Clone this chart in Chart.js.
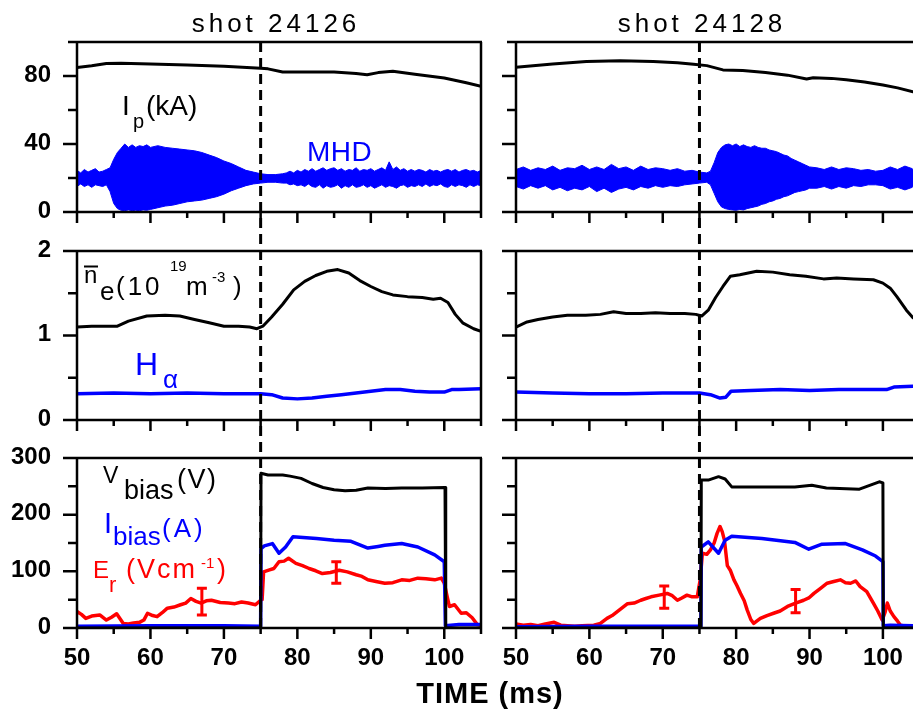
<!DOCTYPE html>
<html>
<head>
<meta charset="utf-8">
<script src="https://cdn.jsdelivr.net/npm/chart.js@4/dist/chart.umd.min.js"></script>
<style>
  body { margin: 0; background: #fff; width: 913px; height: 712px; position: relative; overflow: hidden; }
  canvas { position: absolute; }
</style>
</head>
<body>
<canvas id="lt" width="486" height="232" style="left:0;top:0"></canvas>
<canvas id="rt" width="427" height="232" style="left:486px;top:0"></canvas>
<canvas id="lm" width="486" height="208" style="left:0;top:232px"></canvas>
<canvas id="rm" width="427" height="208" style="left:486px;top:232px"></canvas>
<canvas id="lb" width="913" height="272" style="left:0;top:440px"></canvas>
<canvas id="rb" width="427" height="272" style="left:486px;top:440px"></canvas>
<script>
const FONT = "'Liberation Sans', Arial, sans-serif";
const BLUE = "#0000ff", RED = "#ff0000", BLACK = "#000000";

// time axis (ms)
const xLabels = [50, 60, 70, 80, 90, 100];
const xMinor = [55, 65, 75, 85, 95, 105];
const biasOn = 75;

// y ticks
const ipTicks = [0, 40, 80], ipMinor = [20, 60, 100];
const neTicks = [0, 1, 2], neMinor = [0.5, 1.5];
const biasTicks = [0, 100, 200, 300], biasMinor = [50, 150, 250];

// ---- shot 24126 ----
const ipT1 = [50, 52, 54, 56, 60, 65, 70, 75, 76, 78, 80, 85, 88, 89.5, 91, 93, 96, 100, 103, 105];
const ipV1 = [85, 86, 87.3, 87.5, 87.1, 86.5, 85.7, 84.6, 84.2, 82.3, 82.3, 82.4, 81.5, 80.7, 82, 82.8, 81, 78.8, 76, 74];

// MHD oscillation envelope (upper / lower edge of the band)
const mhdT1 = [50, 50.5, 51, 51.5, 52, 52.5, 53, 53.5, 54, 54.5,
  55, 55.5, 56, 56.5, 57, 57.5, 58, 58.5, 59, 59.5, 60,
  61, 62, 63, 64, 65, 66, 67, 68, 69, 70, 71, 72, 73, 74, 75,
  76, 77, 78,
  78.5, 79, 79.5, 80, 80.5, 81, 81.5, 82, 82.5, 83, 83.5, 84, 84.5, 85, 85.5, 86, 86.5, 87, 87.5, 88, 88.5, 89, 89.5, 90,
  90.5, 91, 91.5, 92, 92.5, 93, 93.5, 94, 94.5, 95, 95.5, 96, 96.5, 97, 97.5, 98, 98.5, 99, 99.5, 100,
  100.5, 101, 101.5, 102, 102.5, 103, 103.5, 104, 104.5, 105];
const mhdHi1 = [24.5, 23, 25, 23.5, 24.5, 25.5, 23.5, 24, 25, 26,
  31, 35, 37.5, 40, 38, 39.5, 38, 39, 38.5, 39.5, 38,
  39, 38, 37.5, 37, 36.5, 36, 35, 33.5, 32, 30, 28.5, 26.5, 24.5, 23.5, 22.5,
  22, 22, 22.5,
  23, 24, 23, 24.5, 23.5, 25, 24, 25.5, 24, 25, 26, 24.5, 25.5, 26, 24.5, 25.5, 24, 25, 24.5, 26, 24, 25, 24.5, 25.5,
  24, 25, 26, 24.5, 29.5, 25, 26.5, 24.5, 25.5, 24, 25, 24, 25, 24.5, 23.5, 25, 24, 24.5, 23.5, 24.5,
  25, 24, 25, 23.5, 24.5, 25, 24, 24.5, 23.5, 24.5];
const mhdLo1 = [15, 16.5, 15, 16, 14.5, 16, 15.5, 15, 16, 12,
  5, 2, 1, 0.8, 1.2, 0.8, 1, 0.8, 1.2, 1, 1.5,
  2.5, 3.5, 4, 5, 6, 6.5, 7, 8, 9, 10.5, 12.5, 14, 15.5, 16.5, 17,
  17.5, 17.5, 17,
  17, 16, 16.5, 15.5, 16, 15, 16.5, 15, 14.5, 16, 14, 15.5, 14.5, 15, 16, 14, 15.5, 14.5, 16, 14.5, 15, 16, 14.5, 15.5,
  14, 15, 16, 14.5, 15.5, 15, 14, 15.5, 16, 14.5, 15.5, 15, 16, 15, 16.5, 15, 16, 15.5, 16.5, 15,
  14.5, 16, 15, 16, 15.5, 14.5, 16, 15, 16, 15.5];

const neT1 = [50, 52, 54, 55.5, 57, 59.5, 62, 64, 66, 68, 70, 72, 73.5, 74.5, 75.3, 76.5, 78, 79.5, 81, 82.5, 84, 85.5, 87, 88.5, 90, 91.5, 93, 95, 97, 98.5, 99.5, 100.5, 101.5, 102.5, 104, 105];
const neV1 = [1.10, 1.11, 1.11, 1.11, 1.17, 1.23, 1.24, 1.23, 1.19, 1.15, 1.11, 1.11, 1.10, 1.08, 1.11, 1.22, 1.37, 1.54, 1.64, 1.71, 1.76, 1.78, 1.74, 1.65, 1.58, 1.52, 1.48, 1.46, 1.45, 1.43, 1.44, 1.39, 1.25, 1.15, 1.08, 1.05];

const haT1 = [50, 55, 60, 65, 70, 75, 76.5, 78, 80, 82, 84, 86, 88, 90, 92, 94, 96, 98, 100, 101, 102, 105];
const haV1 = [0.31, 0.32, 0.31, 0.32, 0.31, 0.31, 0.30, 0.26, 0.25, 0.26, 0.28, 0.30, 0.32, 0.34, 0.36, 0.36, 0.34, 0.33, 0.33, 0.36, 0.36, 0.37];

const vbT1 = [50, 75, 75.05, 76, 78, 79, 80.5, 82, 83.5, 85, 86.5, 88, 89.6, 92, 94.2, 97, 100.1, 100.2, 105];
const vbV1 = [0, 0, 273, 270, 270, 268, 264, 255, 248, 244, 242, 243, 247, 246, 247, 247, 248, 0, 0];

const ibT1 = [50, 60, 70, 75, 75.05, 75.5, 76.6, 77.5, 78.4, 79.4, 82.6, 85, 87.3, 89.6, 91, 91.9, 94.2, 96.4, 98.7, 100, 100.15, 102, 105];
const ibV1 = [3, 4, 4, 3, 140, 145, 149, 132, 143, 161, 158, 155, 153, 141, 144, 146, 149, 143, 129, 117, 4, 6, 6];

const erT1 = [50, 50.6, 51.2, 52, 53.1, 54, 54.7, 55.4, 56.3, 57, 57.7, 58.5, 59.1, 59.6, 60.3, 60.9, 61.6, 62.3, 63.2, 64.1, 64.8, 65.5, 66.2, 66.9, 67.6, 68.3, 69.5, 70.6, 71.5, 72.4, 73.3, 74.3, 75, 75.2, 75.4, 76.1, 76.8, 77.5, 78.2, 78.8, 79.8, 80.7, 81.6, 82.5, 83.4, 84.5, 85.7, 86.8, 88, 88.8, 89.6, 90.7, 91.9, 93, 94.2, 95.3, 96.4, 97.5, 98.7, 99.6, 100, 100.4, 100.7, 101.4, 102.3, 103, 103.8, 104.5, 105];
const erV1 = [29, 24, 17, 21, 23, 14, 19, 25, 8, 7, 9, 10, 14, 26, 22, 20, 27, 35, 37, 41, 44, 52, 47, 44, 48, 49, 45, 44, 43, 46, 44, 41, 49, 50, 99, 102, 105, 117, 118, 123, 114, 110, 105, 101, 96, 98, 102, 99, 94, 91, 85, 82, 79, 80, 85, 84, 88, 87, 85, 88, 79, 55, 38, 41, 26, 27, 18, 6, 5];
const errT1 = [67, 85.3], errLo1 = [23, 79], errHi1 = [70, 117];

// ---- shot 24128 ----
const ipT2 = [50, 55, 59.6, 64.2, 68.7, 72, 74.2, 76, 78.2, 80.9, 84, 87, 89.6, 90.5, 93, 95, 97.5, 100, 102, 104.1];
const ipV2 = [85.1, 87, 88.5, 88.9, 88.5, 87.8, 86.9, 86.1, 83.6, 83.2, 82, 80.5, 78.2, 79, 78.6, 77.8, 76.5, 74.7, 73, 70.7];

const mhdT2 = [50, 51, 52, 53, 54, 55, 56, 57, 58, 59, 60, 61, 62, 63, 64, 65, 66, 67, 68, 69, 70, 71, 72, 73, 74, 75, 76,
  76.5, 77, 77.5, 78, 78.5, 79, 79.5, 80, 80.5, 81, 81.5, 82, 82.5, 83, 83.5, 84, 84.5, 85, 85.5, 86, 86.5, 87, 87.5, 88, 88.5, 89, 89.5, 90,
  91, 92, 93, 94, 95, 96, 97, 98, 99, 100, 101, 102, 103, 104, 104.1];
const mhdHi2 = [25, 26.5, 24.5, 26, 25, 27, 24.5, 26, 25.5, 27.5, 25, 26.5, 25, 28, 25.5, 26.5, 24.5, 27, 25, 26, 25.5, 24.5, 25.5, 24, 24.5, 23.5, 23,
  24, 29, 35, 38, 39.5, 40, 39, 40, 38.5, 39.5, 38.5, 38, 39, 38, 37.5, 37.5, 36.5, 36, 35.5, 34.5, 33.5, 33, 31.5, 30.5, 29.5, 28.5, 27.5, 26.5,
  26, 25, 26.5, 25, 26, 25.5, 24.5, 25, 24, 24.5, 26.5, 25, 27, 25.5, 25];
const mhdLo2 = [15, 13.5, 15.5, 14, 15.5, 13, 14.5, 12.5, 14, 13, 15, 12, 14, 11.5, 13.5, 14.5, 13, 15, 14, 15.5, 14.5, 15.5, 15, 16, 16.5, 17, 17.5,
  16, 11, 6, 3, 2, 1.5, 1.2, 1, 1.5, 1.2, 2, 2.5, 3, 3.5, 4.5, 5, 6, 6.5, 7.5, 8, 9, 9.5, 10.5, 11.5, 12, 12.5, 13, 14,
  14, 15, 13.5, 15, 14, 15.5, 15, 16, 16, 15.5, 13.5, 14.5, 13, 14.5, 15];

const neT2 = [50, 51.5, 53, 55, 57, 59.5, 61.5, 63.3, 65, 67, 69, 71, 73, 74.5, 75.3, 76.2, 77.2, 78.2, 79.2, 80.5, 82.8, 85, 87.3, 89.5, 91.9, 93.7, 96, 98.7, 100, 101, 101.9, 103.2, 104.1];
const neV2 = [1.10, 1.16, 1.19, 1.22, 1.24, 1.24, 1.25, 1.28, 1.26, 1.26, 1.27, 1.26, 1.26, 1.25, 1.23, 1.30, 1.45, 1.58, 1.70, 1.72, 1.76, 1.75, 1.72, 1.70, 1.67, 1.68, 1.67, 1.66, 1.62, 1.56, 1.46, 1.30, 1.21];

const haT2 = [50, 55, 60, 65, 70, 75, 76.5, 77.8, 78.6, 79.3, 82, 86, 90, 94, 98, 100.5, 101.5, 104.1];
const haV2 = [0.33, 0.32, 0.31, 0.31, 0.32, 0.32, 0.30, 0.26, 0.27, 0.34, 0.35, 0.36, 0.35, 0.36, 0.36, 0.36, 0.39, 0.40];

const vbT2 = [50, 75.2, 75.25, 76.2, 77.6, 78.5, 79.4, 83.5, 88, 90.3, 92.3, 96.8, 99.5, 100, 100.05, 104.1];
const vbV2 = [0, 0, 261, 261, 267, 263, 249, 249, 249, 252, 247, 245, 258, 256, 0, 0];

const ibT2 = [50, 60, 70, 75.2, 75.25, 76.2, 77.6, 78.5, 79.4, 83.5, 88, 89.9, 91.7, 94.9, 97.2, 99, 100, 100.05, 101, 104.1];
const ibV2 = [2, 3, 3, 3, 143, 152, 132, 155, 162, 158, 151, 139, 148, 149, 138, 127, 117, 4, 5, 4];

const erT2 = [50, 51, 52, 53, 54, 55.2, 56.1, 57, 58, 59, 60.6, 61.5, 62.4, 63.1, 63.8, 64.5, 65.2, 66.1, 67, 67.7, 68.4, 69.5, 70.6, 71.3, 72, 72.6, 73.3, 74, 74.7, 75.1, 75.4, 76, 76.5, 77, 77.4, 77.8, 78.1, 78.4, 78.8, 79.2, 79.7, 80.1, 80.6, 81.1, 81.5, 82, 82.4, 82.8, 83.3, 84.2, 85.1, 86, 87, 88.1, 89.2, 89.9, 90.6, 91.5, 92.4, 93.3, 94.2, 94.9, 95.6, 96.3, 96.9, 97.8, 98.7, 99.3, 99.9, 100.3, 100.6, 101, 101.5, 102, 102.4, 103, 104.1];
const erV2 = [7, 5, 6, 4, 7, 10, 5, 4, 3, 4, 5, 8, 17, 22, 29, 36, 43, 44, 49, 52, 55, 58, 61, 57, 49, 53, 58, 55, 55, 85, 132, 130, 138, 150, 167, 179, 170, 155, 110, 102, 85, 75, 61, 48, 32, 15, 8, 12, 17, 22, 26, 30, 38, 44, 49, 53, 61, 70, 79, 82, 85, 80, 79, 83, 73, 64, 44, 30, 14, 28, 44, 30, 20, 12, 5, 3, 2];
const errT2 = [70.2, 88.1], errLo2 = [35, 27], errHi2 = [74, 68];

const pts = (t, v) => t.map((x, i) => ({ x: x, y: v[i] }));
const line = (t, v, color, w) => ({ data: pts(t, v), borderColor: color, borderWidth: w, fill: false });

// text pieces: [text, x, y, size, color, letterSpacing, bold, align]  (page coordinates)
function drawText(ctx, items) {
  items.forEach(it => {
    ctx.save();
    ctx.font = (it[6] ? "bold " : "") + it[3] + "px " + FONT;
    ctx.fillStyle = it[4] || BLACK;
    ctx.letterSpacing = (it[5] || 0) + "px";
    ctx.textBaseline = "alphabetic";
    ctx.textAlign = it[7] || "left";
    ctx.fillText(it[0], it[1], it[2]);
    ctx.restore();
  });
}

function deco(o) {
  return {
    id: "deco",
    afterDatasetsDraw(chart) {
      const ctx = chart.ctx, a = chart.chartArea;
      const xs = chart.scales.x, ys = chart.scales.y;
      ctx.save();
      ctx.strokeStyle = BLACK;
      ctx.lineWidth = 2.5;
      ctx.lineCap = "butt";
      // frame
      ctx.beginPath();
      ctx.moveTo(a.left, a.top); ctx.lineTo(a.left, a.bottom);
      ctx.moveTo(a.left - 1, a.bottom); ctx.lineTo(a.right, a.bottom);
      ctx.moveTo(a.left, a.top); ctx.lineTo(a.right + (o.rightBorder ? 1 : 0), a.top);
      if (o.rightBorder) { ctx.moveTo(a.right, a.top); ctx.lineTo(a.right, a.bottom + 1); }
      // y ticks
      o.yMajor.forEach(v => { const y = ys.getPixelForValue(v); ctx.moveTo(a.left - 14, y); ctx.lineTo(a.left, y); });
      o.yMinor.forEach(v => { const y = ys.getPixelForValue(v); ctx.moveTo(a.left - 9, y); ctx.lineTo(a.left, y); });
      // x ticks
      xLabels.forEach(v => { const x = xs.getPixelForValue(v); ctx.moveTo(x, a.bottom); ctx.lineTo(x, a.bottom + 11); });
      xMinor.forEach(v => { if (v <= xs.max) { const x = xs.getPixelForValue(v); ctx.moveTo(x, a.bottom); ctx.lineTo(x, a.bottom + 6); } });
      ctx.stroke();
      // tick labels
      ctx.fillStyle = BLACK;
      ctx.font = "bold 24px " + FONT;
      if (o.left === 0) {
        ctx.textAlign = "right"; ctx.textBaseline = "middle";
        o.yMajor.forEach(v => ctx.fillText(String(v), a.left - 26, ys.getPixelForValue(v) - 1));
      }
      if (o.row === 2) {
        ctx.textAlign = "center"; ctx.textBaseline = "alphabetic";
        xLabels.forEach(v => ctx.fillText(String(v), xs.getPixelForValue(v), a.bottom + 37));
      }
      // dashed marker at bias switch-on
      const xb = xs.getPixelForValue(biasOn);
      const y0 = o.row === 0 ? a.top : 0;
      const y1 = o.row === 2 ? a.bottom : chart.height;
      ctx.lineWidth = 3;
      ctx.setLineDash([10, 6]);
      ctx.lineDashOffset = (o.top + y0) - 42;
      ctx.beginPath(); ctx.moveTo(xb, y0); ctx.lineTo(xb, y1); ctx.stroke();
      ctx.setLineDash([]);
      // error bars on Er
      if (o.err) {
        ctx.strokeStyle = RED; ctx.lineWidth = 3;
        ctx.beginPath();
        o.err.t.forEach((t, i) => {
          const x = xs.getPixelForValue(t), yl = ys.getPixelForValue(o.err.lo[i]), yh = ys.getPixelForValue(o.err.hi[i]);
          ctx.moveTo(x, yl); ctx.lineTo(x, yh);
          ctx.moveTo(x - 5, yl); ctx.lineTo(x + 5, yl);
          ctx.moveTo(x - 5, yh); ctx.lineTo(x + 5, yh);
        });
        ctx.stroke();
      }
      // labels
      ctx.translate(-o.left, -o.top);
      if (o.text) drawText(ctx, o.text);
      if (o.extra) o.extra(ctx);
      ctx.restore();
    }
  };
}

function panel(id, o) {
  const right = o.left > 0;
  const yW = right ? 30 : 77;
  new Chart(document.getElementById(id), {
    type: "line",
    data: { datasets: o.datasets },
    options: {
      responsive: false,
      animation: false,
      events: [],
      layout: { padding: { top: o.padTop, right: o.padRight, left: 0, bottom: 0 } },
      elements: { point: { radius: 0 }, line: { tension: 0, borderJoinStyle: "round", borderCapStyle: "round" } },
      plugins: { legend: { display: false }, tooltip: { enabled: false } },
      scales: {
        x: {
          type: "linear", min: 50, max: right ? 104.1 : 105,
          afterFit(s) { s.height = o.xH; s.paddingLeft = 0; s.paddingRight = 0; },
          afterBuildTicks(s) { s.ticks = xLabels.map(v => ({ value: v })); },
          grid: { display: false, drawTicks: false },
          border: { display: false },
          ticks: { display: false }
        },
        y: {
          min: o.yMin, max: o.yMax,
          afterFit(s) { s.width = yW; s.paddingTop = 0; s.paddingBottom = 0; },
          afterBuildTicks(s) { s.ticks = o.yMajor.map(v => ({ value: v })); },
          grid: { display: false, drawTicks: false },
          border: { display: false },
          ticks: { display: false }
        }
      }
    },
    plugins: [deco(Object.assign({ rightBorder: !right }, o))]
  });
}

// top row: plasma current + MHD
panel("lt", {
  left: 0, top: 0, row: 0, padTop: 42, padRight: 5, xH: 20,
  yMin: 0, yMax: 100, yMajor: ipTicks, yMinor: ipMinor,
  datasets: [
    { data: pts(mhdT1, mhdLo1), borderColor: BLUE, borderWidth: 1, fill: false },
    { data: pts(mhdT1, mhdHi1), borderColor: BLUE, borderWidth: 1, fill: "-1", backgroundColor: BLUE },
    line(ipT1, ipV1, BLACK, 3)
  ],
  text: [
    ["shot 24126", 276, 32, 26, BLACK, 4, false, "center"],
    ["I", 122, 115, 28], ["p", 133, 128, 20], ["(kA)", 146, 115, 28],
    ["MHD", 307, 161, 28, BLUE, 0.5]
  ]
});
panel("rt", {
  left: 486, top: 0, row: 0, padTop: 42, padRight: 0, xH: 20,
  yMin: 0, yMax: 100, yMajor: ipTicks, yMinor: ipMinor,
  datasets: [
    { data: pts(mhdT2, mhdLo2), borderColor: BLUE, borderWidth: 1, fill: false },
    { data: pts(mhdT2, mhdHi2), borderColor: BLUE, borderWidth: 1, fill: "-1", backgroundColor: BLUE },
    line(ipT2, ipV2, BLACK, 3)
  ],
  text: [["shot 24128", 702, 32, 26, BLACK, 4, false, "center"]]
});

// middle row: line-averaged density + H-alpha
panel("lm", {
  left: 0, top: 232, row: 1, padTop: 19, padRight: 5, xH: 20,
  yMin: 0, yMax: 2, yMajor: neTicks, yMinor: neMinor,
  datasets: [line(haT1, haV1, BLUE, 3.5), line(neT1, neV1, BLACK, 3)],
  text: [
    ["n", 84, 283, 24], ["e", 100, 300, 26], ["(10", 116, 295, 26, BLACK, 3],
    ["19", 170, 271, 15], ["m", 186, 295, 26], ["-3", 212, 282, 15], [")", 233, 295, 26],
    ["H", 135, 375, 32, BLUE], ["\u03b1", 163, 388, 26, BLUE]
  ],
  extra(ctx) {
    ctx.strokeStyle = BLACK; ctx.lineWidth = 2;
    ctx.beginPath(); ctx.moveTo(84, 266.5); ctx.lineTo(98, 266.5); ctx.stroke();
  }
});
panel("rm", {
  left: 486, top: 232, row: 1, padTop: 19, padRight: 0, xH: 20,
  yMin: 0, yMax: 2, yMajor: neTicks, yMinor: neMinor,
  datasets: [line(haT2, haV2, BLUE, 3.5), line(neT2, neV2, BLACK, 3)]
});

// bottom row: bias voltage, bias current, radial electric field
panel("lb", {
  left: 0, top: 440, row: 2, padTop: 18, padRight: 432, xH: 84,
  yMin: 0, yMax: 300, yMajor: biasTicks, yMinor: biasMinor,
  datasets: [line(vbT1, vbV1, BLACK, 3), line(ibT1, ibV1, BLUE, 3.5), line(erT1, erV1, RED, 3.5)],
  err: { t: errT1, lo: errLo1, hi: errHi1 },
  text: [
    ["V", 103, 483, 23], ["bias", 124, 499, 27], ["(V)", 177, 488, 27, BLACK, 1.5],
    ["I", 104, 533, 29, BLUE], ["bias", 113, 545, 26, BLUE], ["(A)", 162, 537, 26, BLUE, 3],
    ["E", 93, 578, 24, RED], ["r", 109, 592, 22, RED], ["(Vcm", 126, 578, 27, RED, 2],
    ["-1", 201, 568, 15, RED], [")", 217, 578, 27, RED],
    ["TIME (ms)", 490, 703, 29, BLACK, 1, true, "center"]
  ]
});
panel("rb", {
  left: 486, top: 440, row: 2, padTop: 18, padRight: 0, xH: 84,
  yMin: 0, yMax: 300, yMajor: biasTicks, yMinor: biasMinor,
  datasets: [line(vbT2, vbV2, BLACK, 3), line(ibT2, ibV2, BLUE, 3.5), line(erT2, erV2, RED, 3.5)],
  err: { t: errT2, lo: errLo2, hi: errHi2 }
});
</script>
</body>
</html>
